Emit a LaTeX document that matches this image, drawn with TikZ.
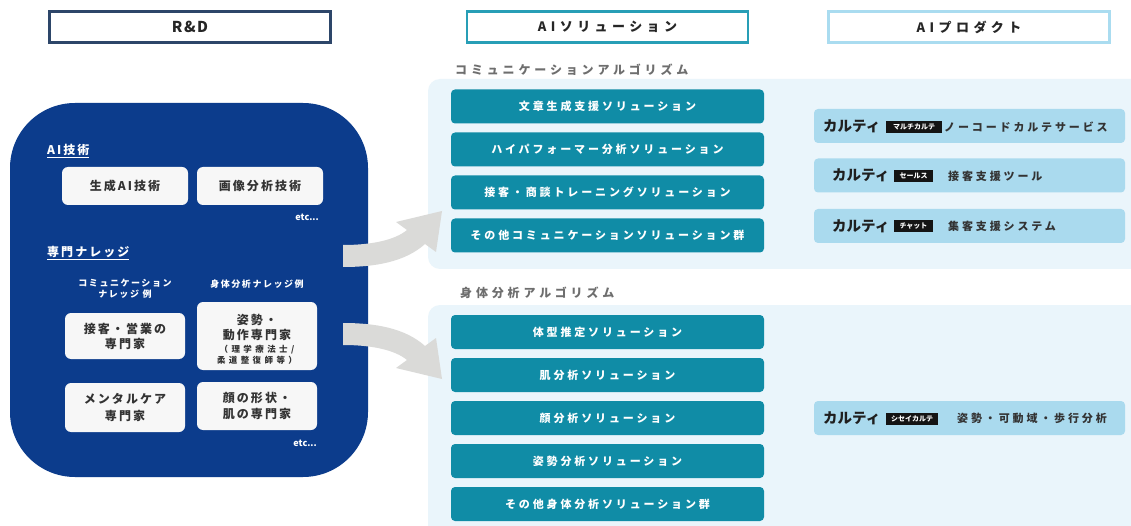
\documentclass[tikz,border=0pt]{standalone}
\usepackage{fontspec}
\setmainfont{Noto Sans CJK JP}
\newfontfamily\lsA{Noto Sans CJK JP}[LetterSpace=26]
\newfontfamily\lsB{Noto Sans CJK JP}[LetterSpace=34]
\newfontfamily\lsC{Noto Sans CJK JP}[LetterSpace=32]
\newfontfamily\lsD{Noto Sans CJK JP}[LetterSpace=17]
\newfontfamily\lsE{Noto Sans CJK JP}[LetterSpace=40]
\newfontfamily\lsF{Noto Sans CJK JP}[LetterSpace=10]
\definecolor{navy}{RGB}{12,60,140}
\definecolor{rdc}{RGB}{45,70,105}
\definecolor{solc}{RGB}{40,158,182}
\definecolor{prodc}{RGB}{170,220,240}
\definecolor{teal}{RGB}{16,140,166}
\definecolor{panelbg}{RGB}{234,245,251}
\definecolor{prodbox}{RGB}{170,218,238}
\definecolor{arrowgray}{RGB}{218,218,216}
\definecolor{wbox}{RGB}{247,247,247}
\definecolor{labgray}{RGB}{110,110,110}
\tikzset{
  hdr/.style={draw, line width=2.5pt, fill=white, minimum width=281pt, minimum height=31pt, inner sep=0pt,
    text=black!85, font=\lsB\bfseries\fontsize{13}{15}\selectfont},
  solbox/.style={fill=teal, rounded corners=4pt, minimum width=313pt, minimum height=34pt, inner sep=0pt,
    text=white, font=\lsA\bfseries\fontsize{11}{13}\selectfont},
  prodrow/.style={fill=prodbox, rounded corners=4pt, minimum width=311pt, minimum height=34pt, inner sep=0pt},
  karte/.style={anchor=west, inner sep=0pt, text=black!88, font=\bfseries\fontsize{14.5}{16}\selectfont},
  badge/.style={fill=black!92, text=white, minimum height=12pt, inner sep=0pt, font=\bfseries\fontsize{7}{7}\selectfont},
  pdesc/.style={anchor=west, inner sep=0pt, text=black!80, font=\lsA\bfseries\fontsize{11}{13}\selectfont},
  seclab/.style={anchor=west, inner sep=0pt, text=labgray, font=\lsC\bfseries\fontsize{12}{14}\selectfont},
  wtbox/.style={fill=wbox, rounded corners=6pt, inner sep=0pt, align=center, text=black!80,
    font=\lsD\bfseries\fontsize{12}{15}\selectfont},
  wlab/.style={inner sep=0pt, text=white, font=\lsD\bfseries\fontsize{12}{14}\selectfont},
  wsub/.style={inner sep=0pt, text=white, align=center, font=\lsD\bfseries\fontsize{9}{11}\selectfont},
  etcs/.style={anchor=east, inner sep=0pt, text=white, font=\bfseries\fontsize{9}{10}\selectfont},
  bigarrow/.style={fill=arrowgray}
}
\begin{document}
\begin{tikzpicture}[x=1pt,y=-1pt]
\useasboundingbox (0,0) rectangle (1131,526);
\fill[white] (0,0) rectangle (1131,526);

% headers
\node[hdr, draw=rdc, font=\lsF\bfseries\fontsize{15}{17}\selectfont] (hrd) at (190,27) {R\&D};
\node[hdr, draw=solc] (hsol) at (607.5,27) {AIソリューション};
\node[hdr, draw=prodc] (hprod) at (969,27) {AIプロダクト};

% light panels
\fill[panelbg, rounded corners=12pt] (428,79) rectangle (1150,269);
\fill[panelbg, rounded corners=12pt] (428,305) rectangle (1150,540);

\node[seclab] (lab1) at (455,70) {コミュニケーションアルゴリズム};
\node[seclab] (lab2) at (460,293) {身体分析アルゴリズム};

% navy R&D panel
\fill[navy, rounded corners=65pt] (10,103) rectangle (368,477);

\node[wlab, anchor=west] (aitech) at (47,151) {\underline{AI技術}};
\node[wtbox, minimum width=126pt, minimum height=38pt] (g1) at (125,186) {生成AI技術};
\node[wtbox, minimum width=126pt, minimum height=38pt] (g2) at (260,186) {画像分析技術};
\node[etcs] (etc1) at (319,217) {etc...};

\node[wlab, anchor=west] (know) at (47,253) {\underline{専門ナレッジ}};
\node[wsub] (sub1) at (125,289) {コミュニケーション\\ナレッジ 例};
\node[wsub] (sub2) at (257,284) {身体分析ナレッジ例};

\node[wtbox, minimum width=120pt, minimum height=46pt] (k1) at (125,336) {接客・営業の\\専門家};
\node[wtbox, minimum width=120pt, minimum height=68pt] (k2) at (257,336) {};
\node[inner sep=0pt, align=center, text=black!80, font=\lsD\bfseries\fontsize{12}{15}\selectfont] (k2a) at (257,327.5) {姿勢・\\動作専門家};
\node[inner sep=0pt, align=center, text=black!80, font=\lsE\bfseries\fontsize{8.5}{11}\selectfont] (k2b) at (257,354.5) {（理学療法士/\\柔道整復師等）};
\node[wtbox, minimum width=120pt, minimum height=49pt, font=\lsD\bfseries\fontsize{12}{16.5}\selectfont] (k3) at (125,407.5) {メンタルケア\\専門家};
\node[wtbox, minimum width=120pt, minimum height=48pt, font=\lsD\bfseries\fontsize{12}{16.5}\selectfont] (k4) at (257,406) {顔の形状・\\肌の専門家};
\node[etcs] (etc2) at (317,443) {etc...};

% arrows
\fill[bigarrow] (343,245) .. controls (372,245) and (395,240) .. (407,230)
   -- (396,222) -- (442,211) -- (436,252) -- (425,244)
   .. controls (405,262) and (375,267) .. (343,267) -- cycle;
\fill[bigarrow] (343,345) .. controls (372,345) and (395,350) .. (407,360)
   -- (396,368) -- (442,379) -- (436,338) -- (425,346)
   .. controls (405,328) and (375,323) .. (343,323) -- cycle;

% solutions
\node[solbox] (c1) at (607.5,106.5) {文章生成支援ソリューション};
\node[solbox] (c2) at (607.5,149.5) {ハイパフォーマー分析ソリューション};
\node[solbox] (c3) at (607.5,192.5) {接客・商談トレーニングソリューション};
\node[solbox] (c4) at (607.5,235.5) {その他コミュニケーションソリューション群};

\node[solbox] (b1) at (607.5,332) {体型推定ソリューション};
\node[solbox] (b2) at (607.5,375) {肌分析ソリューション};
\node[solbox] (b3) at (607.5,418) {顔分析ソリューション};
\node[solbox] (b4) at (607.5,461) {姿勢分析ソリューション};
\node[solbox] (b5) at (607.5,504) {その他身体分析ソリューション群};

% products
\node[prodrow] (p1) at (969.5,126) {};
\node[karte] (p1k) at (823,126) {カルティ};
\node[badge, minimum width=56pt] (p1b) at (914,127) {マルチカルテ};
\node[pdesc] (p1d) at (944,127) {ノーコードカルテサービス};

\node[prodrow] (p2) at (969.5,175.5) {};
\node[karte] (p2k) at (832,175.5) {カルティ};
\node[badge, minimum width=39pt] (p2b) at (913.5,176) {セールス};
\node[pdesc] (p2d) at (948,176) {接客支援ツール};

\node[prodrow] (p3) at (969.5,226) {};
\node[karte] (p3k) at (832,226) {カルティ};
\node[badge, minimum width=39pt] (p3b) at (913.5,226.5) {チャット};
\node[pdesc] (p3d) at (948,226.5) {集客支援システム};

\node[prodrow] (p4) at (969.5,418) {};
\node[karte] (p4k) at (823,418) {カルティ};
\node[badge, minimum width=52pt] (p4b) at (912,418.5) {シセイカルテ};
\node[pdesc] (p4d) at (957,418.5) {姿勢・可動域・歩行分析};
\end{tikzpicture}
\end{document}
